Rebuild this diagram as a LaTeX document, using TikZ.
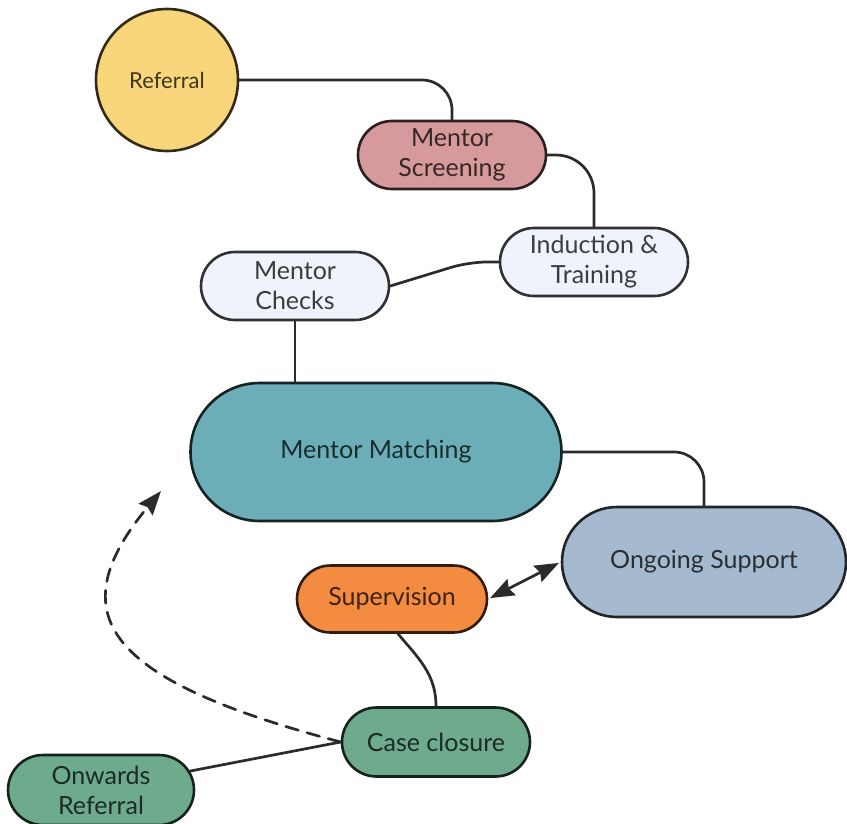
\documentclass[tikz,border=0pt]{standalone}
\usepackage{fontspec}
\setmainfont{Lato}
\usetikzlibrary{shapes.misc,arrows.meta}
\definecolor{refY}{HTML}{F9D67C}
\definecolor{scrP}{HTML}{D69A9C}
\definecolor{paleB}{HTML}{EEF3FC}
\definecolor{tealM}{HTML}{6BAEB7}
\definecolor{greyB}{HTML}{A5BACF}
\definecolor{orgS}{HTML}{F38B40}
\definecolor{grnC}{HTML}{6EAA8C}
\definecolor{linkgray}{HTML}{2B2B2B}
\begin{document}
\begin{tikzpicture}[x=1pt,y=1pt,line join=round,line cap=round,
	bigtip/.tip={Stealth[length=24pt,width=18pt,inset=3pt]},
	box/.style={rounded rectangle,draw=#1!20!black,fill=#1,text=#1!25!black,line width=2.6pt,
		align=center,inner sep=0pt,font=\fontsize{25}{30}\selectfont},
	link/.style={line width=2.7pt,draw=linkgray}]
	\useasboundingbox (0,0) rectangle (847,-824);
	
	\node[box=refY,circle,minimum size=142pt,font=\fontsize{22}{26}\selectfont] (Referral) at (167,-80) {Referral};
	\node[box=scrP,minimum width=188pt,minimum height=68pt] (Screen) at (452,-155) {Mentor\\Screening};
	\node[box=paleB,minimum width=188pt,minimum height=68pt] (Induct) at (594,-262) {Induction \&\\Training};
	\node[box=paleB,minimum width=188pt,minimum height=68pt] (Checks) at (295,-286) {Mentor\\Checks};
	\node[box=tealM,minimum width=371pt,minimum height=138pt] (Match) at (376,-452) {Mentor Matching};
	\node[box=greyB,minimum width=284pt,minimum height=110pt] (Ongoing) at (704,-562) {Ongoing Support};
	\node[box=orgS,minimum width=190pt,minimum height=67pt] (Sup) at (392,-599) {Supervision};
	\node[box=grnC,minimum width=188pt,minimum height=69pt] (CaseC) at (436,-742) {Case closure};
	\node[box=grnC,minimum width=186pt,minimum height=70pt] (Onward) at (101,-790) {Onwards\\Referral};
	\coordinate (back) at (161,-491);
	
	\draw[link,rounded corners=30pt] (Referral.east) -| (Screen.north);
	\draw[link,rounded corners=38pt] (Screen.east) -| (Induct.north);
	\draw[link,rounded corners=18pt] (Induct.west) -- ++(-30,0) -- (Checks.east);
	\draw[link] (Checks.south) -- (Checks.south |- Match.north);
	\draw[link,rounded corners=30pt] (Match.east) -| (Ongoing.north);
	\draw[link,bigtip-bigtip,shorten <=2pt,shorten >=2pt] (Sup.east) -- (Ongoing.west);
	\draw[link] ([xshift=6pt]Sup.south) to[out=-50,in=90] (CaseC.north);
	\draw[link] (CaseC.west) -- (Onward.12);
	\draw[link,-bigtip,dash pattern=on 13pt off 9pt] (CaseC.west) .. controls (105,-680) and (58,-615) .. (back);
\end{tikzpicture}
\end{document}
